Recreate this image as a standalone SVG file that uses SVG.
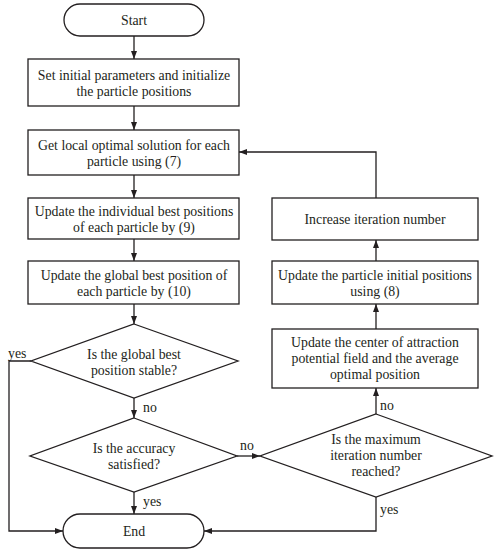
<svg xmlns="http://www.w3.org/2000/svg" width="498" height="550" viewBox="0 0 498 550">
<style>
.n{fill:#fff;stroke:#231f20;stroke-width:1.3}
.c{fill:none;stroke:#231f20;stroke-width:1.3}
text{font-family:"Liberation Serif","Times New Roman",serif;font-size:13.8px;fill:#231f20;text-anchor:middle}
.l{text-anchor:start}
</style>
<defs>
<marker id="a" markerWidth="8" markerHeight="8" refX="8" refY="4" orient="auto" markerUnits="userSpaceOnUse">
<path d="M0,1 L8,4 L0,7 Z" fill="#231f20"/>
</marker>
</defs>
<rect width="498" height="550" fill="#fff"/>
<g id="connectors">
<line class="c" x1="134" y1="36" x2="134" y2="59" marker-end="url(#a)"/>
<line class="c" x1="134" y1="106" x2="134" y2="130" marker-end="url(#a)"/>
<line class="c" x1="134" y1="175" x2="134" y2="198" marker-end="url(#a)"/>
<line class="c" x1="134" y1="239" x2="134" y2="261" marker-end="url(#a)"/>
<line class="c" x1="134" y1="304" x2="134" y2="324" marker-end="url(#a)"/>
<line class="c" x1="134" y1="398" x2="134" y2="418" marker-end="url(#a)"/>
<line class="c" x1="134" y1="492" x2="134" y2="514" marker-end="url(#a)"/>
<polyline class="c" points="31,361 9,361 9,531 63,531" marker-end="url(#a)"/>
<line class="c" x1="237" y1="456" x2="260" y2="456" marker-end="url(#a)"/>
<line class="c" x1="376" y1="414" x2="376" y2="388" marker-end="url(#a)"/>
<line class="c" x1="376" y1="329" x2="376" y2="304" marker-end="url(#a)"/>
<line class="c" x1="376" y1="261" x2="376" y2="240" marker-end="url(#a)"/>
<polyline class="c" points="376,198 376,152 239,152" marker-end="url(#a)"/>
<polyline class="c" points="376,497 376,531 204,531" marker-end="url(#a)"/>
<text class="l" x="8" y="358">yes</text>
<text class="l" x="143" y="412">no</text>
<text class="l" x="143" y="506">yes</text>
<text class="l" x="240" y="450">no</text>
<text class="l" x="380" y="410">no</text>
<text class="l" x="380" y="514">yes</text>
</g>
<g id="start">
<rect class="n" x="64" y="4" width="140" height="32" rx="16"/>
<text x="134" y="25">Start</text>
</g>
<g id="init">
<rect class="n" x="28" y="59" width="211" height="47"/>
<text x="134" y="80">Set initial parameters and initialize</text>
<text x="134" y="96">the particle positions</text>
</g>
<g id="local">
<rect class="n" x="28" y="130" width="211" height="45"/>
<text x="134" y="150">Get local optimal solution for each</text>
<text x="134" y="166">particle using (7)</text>
</g>
<g id="individual">
<rect class="n" x="28" y="198" width="211" height="41"/>
<text x="134" y="216">Update the individual best positions</text>
<text x="134" y="232">of each particle by (9)</text>
</g>
<g id="global">
<rect class="n" x="28" y="261" width="211" height="43"/>
<text x="134" y="280">Update the global best position of</text>
<text x="134" y="296">each particle by (10)</text>
</g>
<g id="stable">
<polygon class="n" points="134,324 238,361 134,398 31,361"/>
<text x="134" y="359">Is the global best</text>
<text x="134" y="375">position stable?</text>
</g>
<g id="accuracy">
<polygon class="n" points="134,418 237,456 134,492 30,456"/>
<text x="134" y="453">Is the accuracy</text>
<text x="134" y="469">satisfied?</text>
</g>
<g id="end">
<rect class="n" x="63" y="514" width="141" height="34" rx="17"/>
<text x="134" y="536">End</text>
</g>
<g id="increase">
<rect class="n" x="272" y="198" width="206" height="42"/>
<text x="375" y="224">Increase iteration number</text>
</g>
<g id="particleinit">
<rect class="n" x="272" y="261" width="206" height="43"/>
<text x="375" y="280">Update the particle initial positions</text>
<text x="375" y="296">using (8)</text>
</g>
<g id="center">
<rect class="n" x="272" y="329" width="206" height="59"/>
<text x="375" y="347">Update the center of attraction</text>
<text x="375" y="363">potential field and the average</text>
<text x="375" y="379">optimal position</text>
</g>
<g id="maxiter">
<polygon class="n" points="376,414 492,456 376,497 260,456"/>
<text x="376" y="444">Is the maximum</text>
<text x="376" y="460">iteration number</text>
<text x="376" y="476">reached?</text>
</g>
</svg>
